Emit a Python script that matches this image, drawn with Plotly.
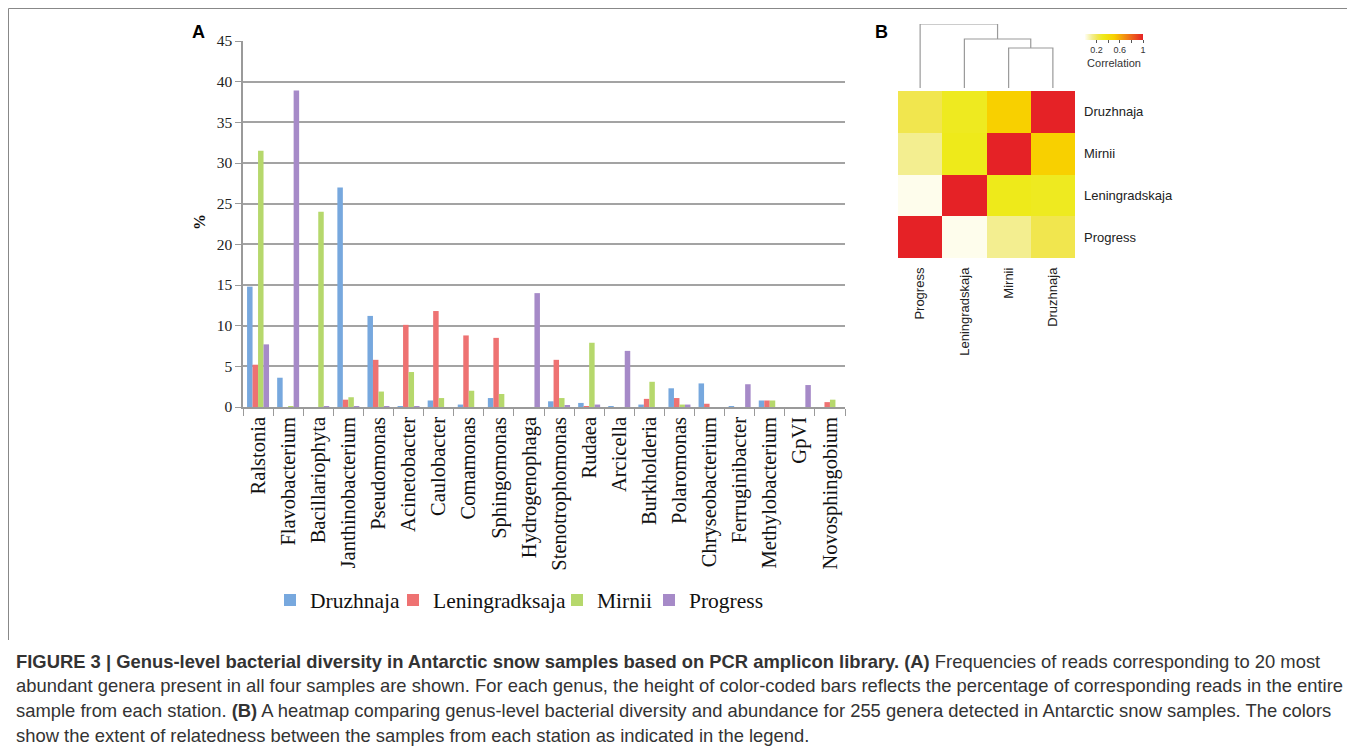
import plotly.graph_objects as go

# page body margin is 8px, so the figure is drawn 8px in from the top-left corner
OFF = 8
W, H = 1355 - OFF, 754 - OFF

genera = ["Ralstonia", "Flavobacterium", "Bacillariophyta", "Janthinobacterium", "Pseudomonas",
          "Acinetobacter", "Caulobacter", "Comamonas", "Sphingomonas", "Hydrogenophaga",
          "Stenotrophomonas", "Rudaea", "Arcicella", "Burkholderia", "Polaromonas",
          "Chryseobacterium", "Ferruginibacter", "Methylobacterium", "GpVI", "Novosphingobium"]
druzhnaja = [14.8, 3.6, 0.0, 27.0, 11.2, 0.1, 0.8, 0.3, 1.1, 0.0,
             0.7, 0.5, 0.1, 0.3, 2.3, 2.9, 0.1, 0.8, 0.0, 0.0]
leningradksaja = [5.2, 0.0, 0.0, 0.9, 5.8, 10.1, 11.8, 8.8, 8.5, 0.0,
                  5.8, 0.1, 0.0, 1.0, 1.1, 0.4, 0.0, 0.8, 0.0, 0.6]
mirnii = [31.5, 0.1, 24.0, 1.2, 1.9, 4.3, 1.1, 2.0, 1.6, 0.0,
          1.1, 7.9, 0.0, 3.1, 0.3, 0.0, 0.0, 0.8, 0.0, 0.9]
progress = [7.7, 38.9, 0.1, 0.1, 0.1, 0.1, 0.0, 0.0, 0.0, 14.0,
            0.2, 0.3, 6.9, 0.0, 0.3, 0.0, 2.8, 0.0, 2.7, 0.0]
series_names = ["Druzhnaja", "Leningradksaja", "Mirnii", "Progress"]
series_values = [druzhnaja, leningradksaja, mirnii, progress]
series_colors = ["#77a8de", "#ee7272", "#b6d86c", "#a68ac8"]

stations = ["Progress", "Leningradskaja", "Mirnii", "Druzhnaja"]
corr = [
    [1.00, 0.01, 0.12, 0.22],
    [0.01, 1.00, 0.31, 0.30],
    [0.12, 0.31, 1.00, 0.50],
    [0.22, 0.30, 0.50, 1.00],
]
# dendrogram merges: (left, right, height); nodes referenced as 'n<i>'
merges = [(2, 3, 0.625), (1, "n0", 0.766), (0, "n1", 1.0)]

heat_scale = [
    [0.00, "#fffef4"],
    [0.12, "#f3ee90"],
    [0.22, "#f1e64e"],
    [0.31, "#eeea1a"],
    [0.50, "#f8d000"],
    [0.75, "#f07818"],
    [1.00, "#e52226"],
]


def px(x):
    return (x - OFF) / W


def py(y):
    return 1 - (y - OFF) / H


serif = "Liberation Serif, Times New Roman, serif"
sans = "Liberation Sans, Arial, sans-serif"

fig = go.Figure()

legend_ids = ["legend", "legend2", "legend3", "legend4"]
legend_text_x = [308, 431, 595, 687]
for name, vals, col, lg in zip(series_names, series_values, series_colors, legend_ids):
    fig.add_trace(go.Bar(x=genera, y=vals, name=name, marker=dict(color=col, line=dict(width=0)),
                         xaxis="x", yaxis="y", legend=lg))

fig.add_trace(go.Heatmap(
    z=corr, x=stations, y=stations, xaxis="x2", yaxis="y2",
    colorscale=heat_scale, zmin=0, zmax=1, showscale=True,
    colorbar=dict(orientation="h", x=px(1114), xanchor="center", y=py(34), yanchor="top",
                  len=58, lenmode="pixels", thickness=6, outlinewidth=0, xpad=0, ypad=0,
                  tickvals=[0.2, 0.4, 0.6, 0.8, 1.0], ticktext=["0.2", "", "0.6", "", "1"],
                  ticks="outside", ticklen=3, tickcolor="#555",
                  tickfont=dict(family=sans, size=9, color="#333"),
                  title=dict(text="Correlation", side="bottom", font=dict(family=sans, size=11, color="#333"))),
))

# dendrogram from merges
pos = {i: float(i) for i in range(len(stations))}
hgt = {i: 0.0 for i in range(len(stations))}
dx, dy = [], []
for k, (a, b, h) in enumerate(merges):
    xa, xb = pos[a], pos[b]
    dx += [xa, xa, xb, xb, None]
    dy += [hgt[a], h, h, hgt[b], None]
    pos["n%d" % k] = (xa + xb) / 2
    hgt["n%d" % k] = h
fig.add_trace(go.Scatter(x=dx, y=dy, mode="lines", line=dict(color="#9a9a9a", width=1.2),
                         xaxis="x3", yaxis="y3", showlegend=False, hoverinfo="skip"))

legend_common = dict(orientation="h", xanchor="left", y=py(600), yanchor="middle",
                     font=dict(family=serif, size=21.5, color="#111"), itemwidth=30,
                     bgcolor="rgba(0,0,0,0)", borderwidth=0)
legends = {}
for lg, tx in zip(legend_ids, legend_text_x):
    legends[lg] = dict(legend_common, x=px(tx - 38))

fig.update_layout(
    width=W, height=H, margin=dict(l=0, r=0, t=0, b=0, autoexpand=False),
    paper_bgcolor="white", plot_bgcolor="white",
    barmode="group", bargap=0.27, bargroupgap=0,
    xaxis=dict(domain=[px(243), px(845)], type="category", tickangle=-90, automargin=False,
               tickfont=dict(family=serif, size=20.5, color="#111"),
               showline=True, linecolor="#9a9a9a", linewidth=1.5,
               ticks="outside", tickson="boundaries", ticklen=7, tickcolor="#9a9a9a",
               showgrid=False, zeroline=False),
    yaxis=dict(domain=[py(407), py(41)], range=[0, 45], dtick=5, automargin=False,
               tickfont=dict(family=serif, size=15.5, color="#222"),
               showline=True, linecolor="#9a9a9a", linewidth=1.5,
               ticks="outside", ticklen=6, tickcolor="#9a9a9a",
               showgrid=True, gridcolor="#a3a3a3", gridwidth=1.5, zeroline=False),
    xaxis2=dict(domain=[px(898), px(1075)], anchor="y2", type="category", automargin=False,
                categoryorder="array", categoryarray=stations,
                tickangle=-90, tickfont=dict(family=sans, size=13, color="#222"),
                ticks="", showline=False, showgrid=False, zeroline=False, ticklabelstandoff=6),
    yaxis2=dict(domain=[py(258), py(91)], anchor="x2", type="category", automargin=False,
                categoryorder="array", categoryarray=stations, side="right",
                tickfont=dict(family=sans, size=13, color="#222"),
                ticks="", showline=False, showgrid=False, zeroline=False, ticklabelstandoff=8),
    xaxis3=dict(domain=[px(898), px(1075)], anchor="y3", range=[-0.5, 3.5], visible=False),
    yaxis3=dict(domain=[py(88), py(24)], anchor="x3", range=[0, 1], visible=False),
    showlegend=True,
    **legends,
)

# y-axis title
fig.add_annotation(x=px(200), y=py(222), xref="paper", yref="paper", text="<b>%</b>", showarrow=False,
                   textangle=-90, font=dict(family=serif, size=16, color="#111"),
                   xanchor="center", yanchor="middle")

# panel labels
fig.add_annotation(x=px(198), y=py(32), xref="paper", yref="paper", text="<b>A</b>", showarrow=False,
                   font=dict(family=sans, size=18, color="#000"), xanchor="center", yanchor="middle")
fig.add_annotation(x=px(882), y=py(32), xref="paper", yref="paper", text="<b>B</b>", showarrow=False,
                   font=dict(family=sans, size=18, color="#000"), xanchor="center", yanchor="middle")

# frame
fig.add_shape(type="line", xref="paper", yref="paper", x0=px(8.5), x1=1, y0=py(8.5), y1=py(8.5),
              line=dict(color="#888", width=1))
fig.add_shape(type="line", xref="paper", yref="paper", x0=px(8.5), x1=px(8.5), y0=py(8.5), y1=py(640),
              line=dict(color="#888", width=1))

caption = [
    "<b>FIGURE 3 | Genus-level bacterial diversity in Antarctic snow samples based on PCR amplicon library. (A)</b> Frequencies of reads corresponding to 20 most",
    "abundant genera present in all four samples are shown. For each genus, the height of color-coded bars reflects the percentage of corresponding reads in the entire",
    "sample from each station. <b>(B)</b> A heatmap comparing genus-level bacterial diversity and abundance for 255 genera detected in Antarctic snow samples. The colors",
    "show the extent of relatedness between the samples from each station as indicated in the legend.",
]
for i, line in enumerate(caption):
    fig.add_annotation(x=px(14), y=py(661 + i * 24.7), xref="paper", yref="paper", text=line,
                       showarrow=False, xanchor="left", yanchor="middle",
                       font=dict(family=sans, size=18.4, color="#333"))

fig.write_html("out.html")
